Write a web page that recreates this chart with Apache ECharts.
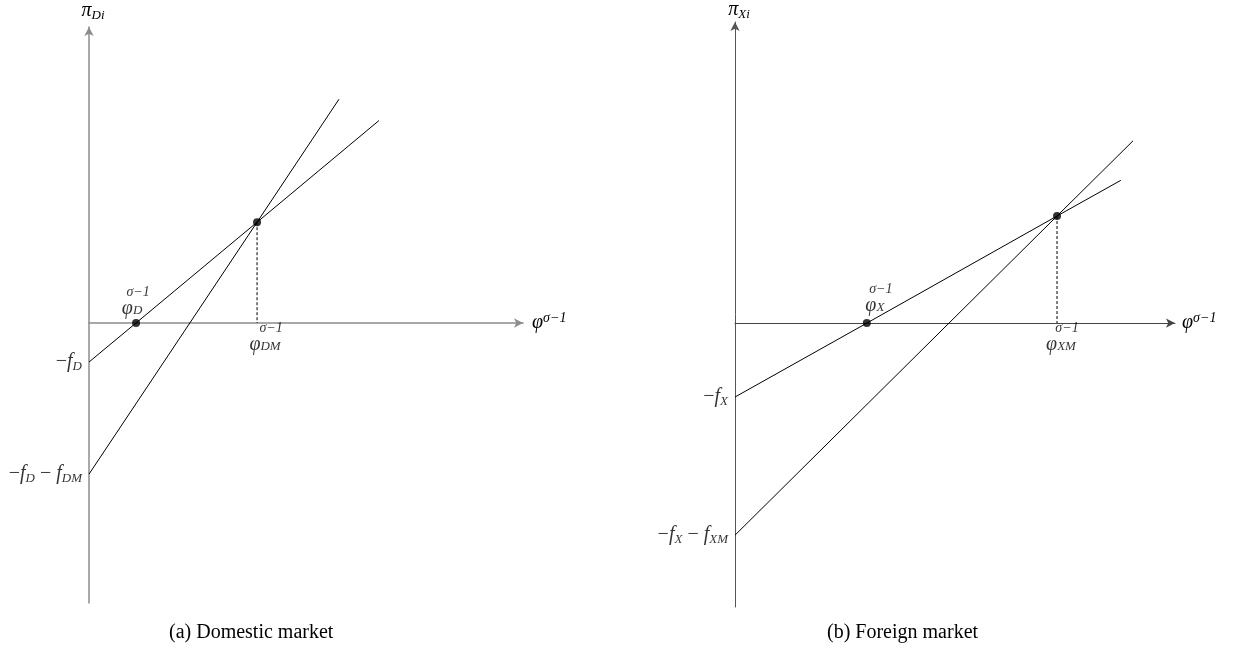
<!DOCTYPE html>
<html>
<head>
<meta charset="utf-8">
<script src="https://cdn.jsdelivr.net/npm/echarts@6/dist/echarts.min.js"></script>
<style>
  html, body { margin: 0; padding: 0; background: #fff; }
  #main { width: 1234px; height: 654px; }
</style>
</head>
<body>
<div id="main"></div>
<script>
// panel (a) domestic market, values in model units
var fD = 0.93, fDM = 2.67;
var phiD = 1.12, phiDM = 4;
var domFlat = [[0, -0.93], [1.12, 0], [4, 2.4], [6.9, 4.82]];
var domSteep = [[0, -3.6], [4, 2.4], [5.95, 5.33]];
var domDots = [[1.12, 0], [4, 2.4]];
var domDash = [[4, 2.4], [4, 0]];

// panel (b) foreign market
var fX = 1.76, fXM = 3.29;
var phiX = 3.14, phiXM = 7.67;
var forFlat = [[0, -1.76], [3.14, 0], [7.67, 2.55], [9.19, 3.4]];
var forSteep = [[0, -5.05], [7.67, 2.55], [9.48, 4.34]];
var forDots = [[3.14, 0], [7.67, 2.55]];
var forDash = [[7.67, 2.55], [7.67, 0]];

var captions = ['(a) Domestic market', '(b) Foreign market'];

var mathFont = 'Liberation Serif';
var base = { fontFamily: mathFont, fontStyle: 'italic', color: '#000' };
function st(o) { return Object.assign({}, base, o); }
var rich = {
  m: st({ fontSize: 20 }),
  s: st({ fontSize: 13, padding: [9, 0, 0, 0] }),
  up: st({ fontSize: 14, padding: [0, 0, 10, 0] }),
  n: st({ fontSize: 20, fontStyle: 'normal' }),
  // stacked sub/sup pieces
  sp: { width: 12, lineHeight: 9 },
  u2: st({ fontSize: 14, lineHeight: 9, verticalAlign: 'bottom' }),
  m2: st({ fontSize: 20, lineHeight: 18, verticalAlign: 'top' }),
  d2: st({ fontSize: 13, lineHeight: 18, verticalAlign: 'bottom', padding: [4, 0, 0, 0] })
};

// φ with stacked sub/superscript
function phiLabel(sub) {
  return '{sp|}{u2|σ−1}\n{m2|φ}{d2|' + sub + '}';
}

function axisStyle(color, width) {
  return {
    show: true,
    onZero: true,
    symbol: ['none', 'arrow'],
    symbolSize: [7, 9],
    lineStyle: { color: color, width: width }
  };
}

function lineSeries(idx, data, dashed) {
  return {
    type: 'line',
    xAxisIndex: idx, yAxisIndex: idx,
    data: data,
    symbol: 'none',
    silent: true,
    lineStyle: { color: '#000', width: 1, type: dashed ? [3, 2] : 'solid' }
  };
}

function dotSeries(idx, data) {
  return {
    type: 'scatter',
    xAxisIndex: idx, yAxisIndex: idx,
    data: data,
    symbolSize: 8,
    itemStyle: { color: '#000' },
    z: 5
  };
}

function textSeries(idx, items) {
  return {
    type: 'scatter',
    xAxisIndex: idx, yAxisIndex: idx,
    symbolSize: 0,
    data: items.map(function (it) {
      return {
        value: it.at,
        label: {
          show: true,
          position: it.pos,
          distance: it.dist,
          offset: it.off || [0, 0],
          formatter: it.text,
          rich: rich
        }
      };
    })
  };
}

var chart = echarts.init(document.getElementById('main'));
var option = {
  backgroundColor: '#fff',
  animation: false,
  title: [
    { text: captions[0], left: 164, top: 618,
      textStyle: { fontFamily: mathFont, fontWeight: 'normal', fontSize: 20, color: '#000' } },
    { text: captions[1], left: 822, top: 618,
      textStyle: { fontFamily: mathFont, fontWeight: 'normal', fontSize: 20, color: '#000' } }
  ],
  grid: [
    { left: 89, top: 27, width: 434, height: 576, outerBoundsMode: 'none' },
    { left: 735, top: 22, width: 440, height: 585, outerBoundsMode: 'none' }
  ],
  xAxis: [
    { type: 'value', gridIndex: 0, min: 0, max: 10.33,
      axisLine: axisStyle('#8c8c8c', 1.5), axisTick: { show: false }, axisLabel: { show: false },
      splitLine: { show: false },
      name: '{m|φ}{up|σ−1}', nameLocation: 'end', nameGap: 9,
      nameTextStyle: { rich: rich } },
    { type: 'value', gridIndex: 1, min: 0, max: 10.48,
      axisLine: axisStyle('#444', 1), axisTick: { show: false }, axisLabel: { show: false },
      splitLine: { show: false },
      name: '{m|φ}{up|σ−1}', nameLocation: 'end', nameGap: 7,
      nameTextStyle: { rich: rich } }
  ],
  yAxis: [
    { type: 'value', gridIndex: 0, min: -6.67, max: 7.05,
      axisLine: axisStyle('#8c8c8c', 1.5), axisTick: { show: false }, axisLabel: { show: false },
      splitLine: { show: false },
      name: '{m|π}{s|Di}', nameLocation: 'end', nameGap: 5,
      nameTextStyle: { rich: rich, padding: [0, 0, 0, 8] } },
    { type: 'value', gridIndex: 1, min: -6.76, max: 7.17,
      axisLine: axisStyle('#555', 1), axisTick: { show: false }, axisLabel: { show: false },
      splitLine: { show: false },
      name: '{m|π}{s|Xi}', nameLocation: 'end', nameGap: 1,
      nameTextStyle: { rich: rich, padding: [0, 0, 0, 8] } }
  ],
  series: [
    lineSeries(0, domFlat), lineSeries(0, domSteep), lineSeries(0, domDash, true),
    dotSeries(0, domDots),
    textSeries(0, [
      { at: [0, -fD], pos: 'left', dist: 7, text: '{n|−}{m|f}{s|D}' },
      { at: [0, -fD - fDM], pos: 'left', dist: 7, text: '{n|−}{m|f}{s|D}{n| − }{m|f}{s|DM}' },
      { at: [phiD, 0], pos: 'top', dist: 6, off: [-4, 0], text: phiLabel('D') },
      { at: [phiDM, 0], pos: 'bottom', dist: 3, off: [8, 0], text: phiLabel('DM') }
    ]),
    lineSeries(1, forFlat), lineSeries(1, forSteep), lineSeries(1, forDash, true),
    dotSeries(1, forDots),
    textSeries(1, [
      { at: [0, -fX], pos: 'left', dist: 7, text: '{n|−}{m|f}{s|X}' },
      { at: [0, -fX - fXM], pos: 'left', dist: 7, text: '{n|−}{m|f}{s|X}{n| − }{m|f}{s|XM}' },
      { at: [phiX, 0], pos: 'top', dist: 9, off: [8, 0], text: phiLabel('X') },
      { at: [phiXM, 0], pos: 'bottom', dist: 3, off: [4, 0], text: phiLabel('XM') }
    ])
  ]
};
chart.setOption(option);
</script>
</body>
</html>
